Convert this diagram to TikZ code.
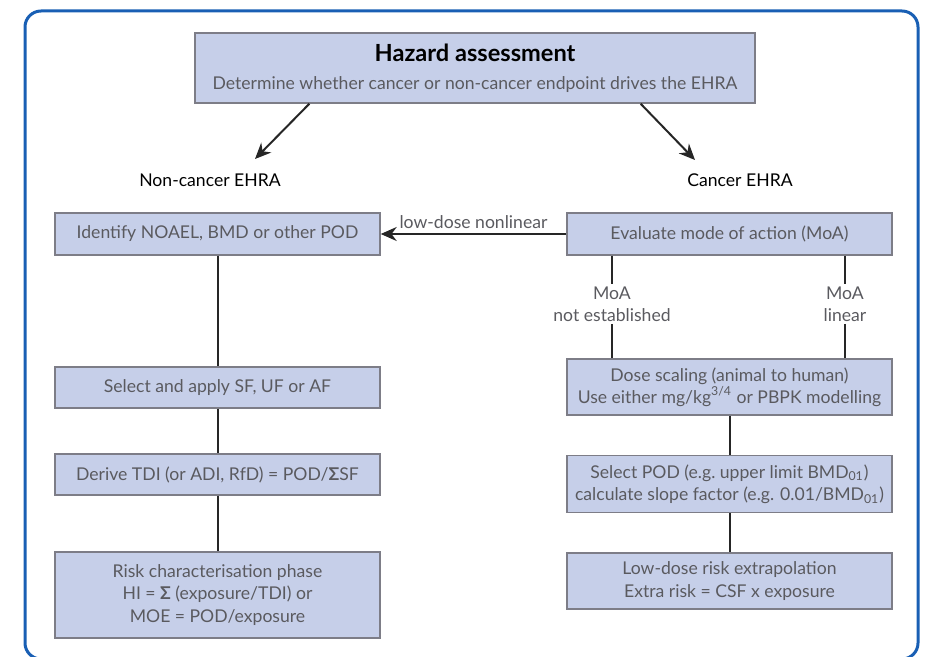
\documentclass[tikz,border=0pt]{standalone}
\usepackage{fontspec}
\setmainfont{Lato}
\usetikzlibrary{arrows.meta,calc}
\definecolor{framblue}{RGB}{25,95,180}
\definecolor{boxfill}{RGB}{198,207,233}
\definecolor{boxline}{RGB}{125,125,135}
\definecolor{boxtext}{RGB}{90,90,95}
\tikzset{>={Stealth[length=8pt,width=7pt]}}
\tikzset{
  stepbox/.style={draw=boxline, fill=boxfill, line width=0.7pt, text=boxtext,
    align=center, inner sep=0pt, minimum width=162.5pt,
    font=\fontsize{8.8}{11.2}\selectfont},
  branch/.style={text=black, font=\fontsize{8.8}{11}\selectfont},
  moalabel/.style={text=boxtext, align=center, inner sep=1pt,
    font=\fontsize{8.8}{11}\selectfont},
  link/.style={line width=1pt, black!85}
}

\begin{document}
\begin{tikzpicture}[x=0.5pt, y=-0.5pt]
    \useasboundingbox (0,0) rectangle (925,657);
    \clip (0,0) rectangle (925,657);
    \draw[framblue, line width=1.5pt, rounded corners=8pt] (25,11) rectangle (918,659);

    % top box
    \node[stepbox, minimum width=280pt, minimum height=35pt] (hazard) at (475,68)
      {{\fontsize{11.8}{14}\selectfont\bfseries\color{black} Hazard assessment}\\[3pt]
       Determine whether cancer or non-cancer endpoint drives the EHRA};

    \node[branch] (noncancer) at (210,180) {Non-cancer EHRA};
    \node[branch] (cancer) at (740,180) {Cancer EHRA};
    \coordinate (ncTip) at (255,159);
    \coordinate (caTip) at (695,160);
    \draw[link, ->] ($(hazard.south west)!0.205!(hazard.south east)$) -- (ncTip);
    \draw[link, ->] ($(hazard.south west)!0.795!(hazard.south east)$) -- (caTip);

    % non-cancer column
    \node[stepbox, minimum height=21pt] (noael) at (217.5,234) {Identify NOAEL, BMD or other POD};
    \node[stepbox, minimum height=20.5pt] (factors) at (217.5,387.5) {Select and apply SF, UF or AF};
    \node[stepbox, minimum height=20.5pt] (tdi) at (217.5,474.5) {Derive TDI (or ADI, RfD) = POD/{\bfseries Σ}SF};
    \node[stepbox, minimum height=43pt] (riskchar) at (217.5,595)
      {Risk characterisation phase\\HI = {\bfseries Σ} (exposure/TDI) or\\MOE = POD/exposure};

    % cancer column
    \node[stepbox, minimum height=21pt] (moa) at (729.5,234) {Evaluate mode of action (MoA)};
    \node[moalabel] (notest) at (612,304) {MoA\\not established};
    \node[moalabel] (linear) at (845,304) {MoA\\linear};
    \node[stepbox, minimum height=28pt] (dosescale) at (729.5,387)
      {Dose scaling (animal to human)\\Use either mg/kg\textsuperscript{3/4} or PBPK modelling};
    \node[stepbox, minimum height=28.5pt] (selpod) at (729.5,484)
      {Select POD (e.g.\ upper limit BMD\textsubscript{01})\\calculate slope factor (e.g. 0.01/BMD\textsubscript{01})};
    \node[stepbox, minimum height=28pt] (lowdose) at (729.5,581)
      {Low-dose risk extrapolation\\Extra risk = CSF x exposure};

    % connectors
    \draw[link, ->] (moa.west) -- node[above, moalabel, yshift=1pt] {low-dose nonlinear} (noael.east);
    \draw[link] (noael) -- (factors);
    \draw[link] (factors) -- (tdi);
    \draw[link] (tdi) -- (riskchar);
    \draw[link] (moa.south -| notest) -- (notest);
    \draw[link] (notest) -- (dosescale.north -| notest);
    \draw[link] (moa.south -| linear) -- (linear);
    \draw[link] (linear) -- (dosescale.north -| linear);
    \draw[link] (dosescale) -- (selpod);
    \draw[link] (selpod) -- (lowdose);
\end{tikzpicture}
\end{document}
